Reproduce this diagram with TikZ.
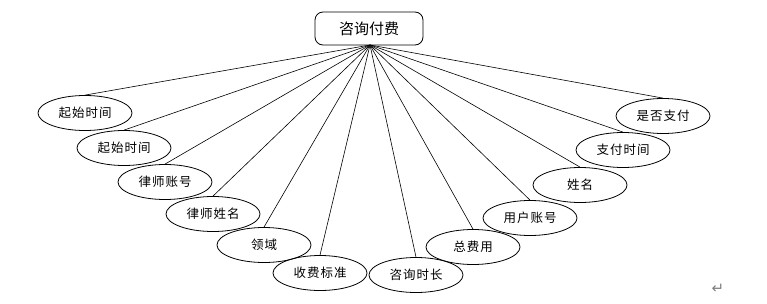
\documentclass[tikz,border=0pt]{standalone}
\usepackage{fontspec}
\setmainfont{Noto Sans CJK SC}
\newfontfamily\spacedcjk[LetterSpace=8]{Noto Sans CJK SC}
\newfontfamily\symfont{DejaVu Sans}
\usetikzlibrary{shapes.geometric}
\tikzset{
  attr/.style={ellipse,draw,line width=0.8pt,minimum width=94pt,minimum height=35pt,inner sep=0pt,font=\spacedcjk\fontsize{12.5pt}{14pt}\selectfont},
  ent/.style={rectangle,rounded corners=8pt,draw,line width=0.8pt,minimum width=108pt,minimum height=33pt,inner sep=0pt,font=\fontsize{15pt}{17pt}\selectfont},
  conn/.style={line width=0.6pt}
}
\begin{document}
\begin{tikzpicture}[x=1pt,y=-1pt]
\useasboundingbox (0,0) rectangle (767,303);
\node[ent] (top) at (369,28.5) {咨询付费};
\coordinate (hub) at (370,45);
\node[attr] (a1) at (85,113) {起始时间};
\node[attr] (a2) at (124,148) {起始时间};
\node[attr] (a3) at (165,182) {律师账号};
\node[attr] (a4) at (213,214) {律师姓名};
\node[attr] (a5) at (264,245) {领域};
\node[attr] (a6) at (320,273) {收费标准};
\node[attr] (a7) at (416,275) {咨询时长};
\node[attr] (a8) at (473,247) {总费用};
\node[attr] (a9) at (530,218) {用户账号};
\node[attr] (a10) at (580,185) {姓名};
\node[attr] (a11) at (623,150) {支付时间};
\node[attr] (a12) at (663,116) {是否支付};
\foreach \i in {1,...,12} \draw[conn] (hub) -- (a\i.north);
\node[text=gray,font=\symfont\fontsize{15pt}{17pt}\selectfont] (mark) at (718,289) {↵};
\end{tikzpicture}
\end{document}
